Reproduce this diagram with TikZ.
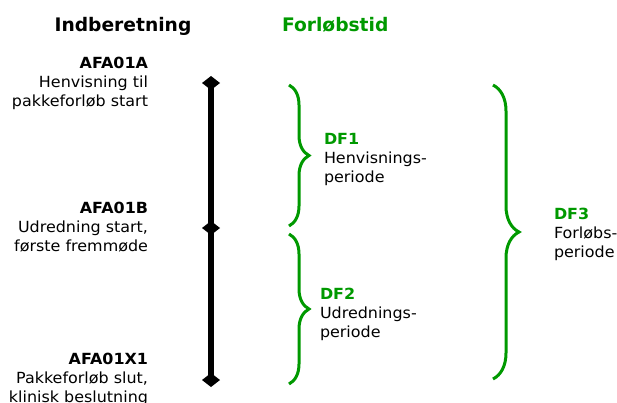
\documentclass[tikz,border=0pt]{standalone}
\usepackage{fontspec}
\setmainfont{DejaVu Sans}
\newfontfamily\bodyfont{DejaVu Sans}[FakeStretch=1.04]
\usetikzlibrary{shapes.geometric,decorations.pathreplacing}

\definecolor{df-green}{RGB}{0, 153, 0}

\begin{document}
\begin{tikzpicture}[
        x=0.75pt, y=-0.75pt,
        every node/.style={inner sep=0pt, outer sep=0pt},
        header/.style={font=\fontsize{14}{17}\selectfont\bfseries},
        event/.style={align=right, anchor=north east, font=\bodyfont\fontsize{11.5}{14.25}\selectfont},
        period/.style={align=left, anchor=north west, font=\bodyfont\fontsize{11.5}{14.25}\selectfont},
        marker/.style={shape=diamond, fill=black, minimum width=13.5pt, minimum height=10.5pt},
        brace/.style={draw=df-green, line width=2.25pt, decorate, decoration={brace, amplitude=#1}},
    ]
    \useasboundingbox (0,0) rectangle (617,403);

    % headers
    \node[header, anchor=north] (indb) at (123,17) {Indberetning};
    \node[header, anchor=north west, text=df-green] (forl) at (282,17) {Forløbstid};

    % time line
    \node[marker] (afa01a) at (211,83) {};
    \node[marker] (afa01b) at (211,228) {};
    \node[marker] (afa01x1) at (211,380) {};
    \draw[line width=4.5pt] (afa01a.center) -- (afa01x1.center);

    \node[event] (ta) at (148,57) {\textbf{AFA01A}\\Henvisning til\\pakkeforløb start};
    \node[event] (tb) at (148,202) {\textbf{AFA01B}\\Udredning start,\\første fremmøde};
    \node[event] (tx) at (148,353) {\textbf{AFA01X1}\\Pakkeforløb slut,\\klinisk beslutning};

    % periods
    \coordinate (df1top) at (289,85);
    \coordinate (df1bot) at (289,226);
    \coordinate (df2top) at (289,234);
    \coordinate (df2bot) at (289,384);
    \coordinate (df3top) at (493,85);
    \coordinate (df3bot) at (493,379);
    \draw[brace=15pt] (df1top) -- (df1bot);
    \draw[brace=15pt] (df2top) -- (df2bot);
    \draw[brace=19.5pt] (df3top) -- (df3bot);

    \node[period] (df1) at (324,133) {\textcolor{df-green}{\textbf{DF1}}\\Henvisnings-\\periode};
    \node[period] (df2) at (320,288) {\textcolor{df-green}{\textbf{DF2}}\\Udrednings-\\periode};
    \node[period] (df3) at (554,208) {\textcolor{df-green}{\textbf{DF3}}\\Forløbs-\\periode};
\end{tikzpicture}
\end{document}
